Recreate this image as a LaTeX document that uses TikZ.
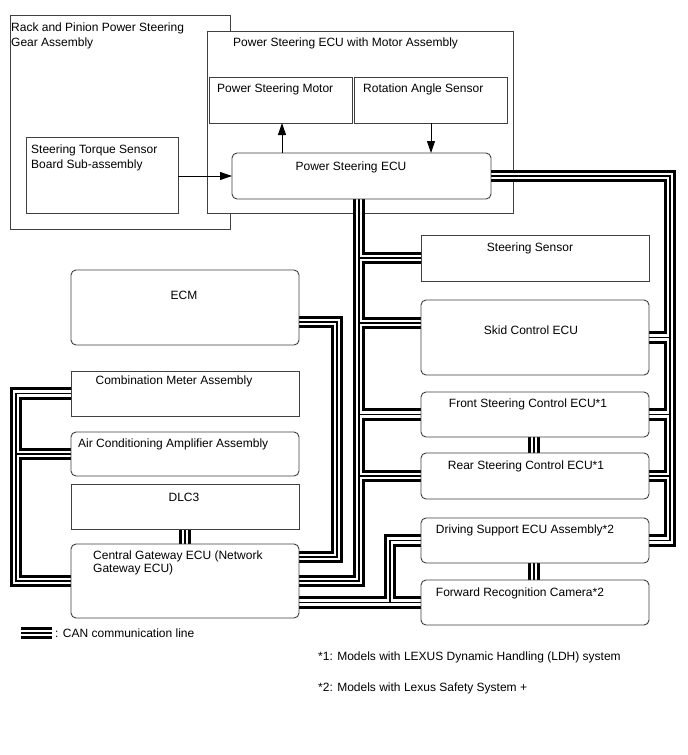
\documentclass[tikz,border=0pt]{standalone}
\usepackage{fontspec}
\setmainfont{Liberation Sans}
\usetikzlibrary{arrows.meta,calc}
\definecolor{boxc}{gray}{0.25}
\pgfdeclarelayer{bg}
\pgfdeclarelayer{bus}
\pgfsetlayers{bg,bus,main}
\newcommand\mkbox[6]{\node[#2, minimum width={(#5-#3)*1pt}, minimum height={(#6-#4)*1pt}] (#1) at ({(#3+#5)/2},{(#4+#6)/2}) {};}
\newcommand\canbuses{%
  % right-hand chain
  \draw (ecu.east) -- (rx |- ecu.east) -- (rx |- ds.east) -- (ds.east);
  \draw (rx |- skid.east) -- (skid.east);
  \draw (rx |- front.east) -- (front.east);
  \draw (rx |- rear.east) -- (rear.east);
  % main trunk
  \draw (ecu.south -| tx) -- (tx |- cg.east) -- (cg.east);
  \draw (tx |- ss.west) -- (ss.west);
  \draw (tx |- skidL) -- (skidL);
  \draw (tx |- front.west) -- (front.west);
  \draw (tx |- rear.west) -- (rear.west);
  % ECM
  \draw (ecmR) -- (mx |- ecmR) -- (mx |- cgA) -- (cgA);
  % left bus
  \draw (cm.west) -- (lx |- cm.west) -- (lx |- cg.west) -- (cg.west);
  \draw (lx |- ac.west) -- (ac.west);
  % bottom
  \draw (cg.east |- frc.west) -- (frc.west);
  \draw (ds.west) -- (dx |- ds.west) -- (dx |- frc.west);
  % short verticals
  \draw (front.south -| vx) -- (rear.north -| vx);
  \draw (ds.south -| vx) -- (frc.north -| vx);
  \draw (dlc.south) -- (cg.north);
  % legend
  \draw (lg1) -- (lg2);
}
\tikzset{
  sq/.style={draw=boxc, line width=0.9pt, inner sep=0pt, outer sep=0pt},
  rnd/.style={sq, rounded corners=5pt},
  lbl/.style={inner sep=0pt, font=\fontsize{12}{15}\selectfont},
  lblc/.style={lbl, anchor=base},
  lbll/.style={lbl, anchor=base west, align=left},
  arr/.style={draw=black, line width=0.9pt, -{Triangle[length=12pt,width=8pt]}}
}
\begin{document}
\begin{tikzpicture}[x=1pt,y=-1pt]
\useasboundingbox (0,0) rectangle (688,755);
\begin{pgfonlayer}{bg}
\fill[white] (0,0) rectangle (688,755);
\mkbox{gear}{sq}{10}{15}{230}{229}
\mkbox{psa}{sq,fill=white}{207}{31}{513}{213}
\end{pgfonlayer}
% boxes
\mkbox{motor}{sq}{209}{77}{352}{123}
\mkbox{ras}{sq}{354}{77}{507}{123}
\mkbox{torque}{sq}{26}{137}{178}{213}
\mkbox{ecu}{rnd}{232}{153}{491}{199}
\mkbox{ss}{sq}{421}{235}{649}{281}
\mkbox{skid}{rnd}{421}{300}{649}{375}
\mkbox{front}{rnd}{421}{392}{649}{437}
\mkbox{rear}{rnd}{421}{453}{649}{499}
\mkbox{ds}{rnd}{421}{518}{649}{563}
\mkbox{frc}{rnd}{421}{580}{649}{625}
\mkbox{ecm}{rnd}{71}{270}{299}{345}
\mkbox{cm}{sq}{71}{371}{299}{416}
\mkbox{ac}{rnd}{71}{432}{299}{476}
\mkbox{dlc}{sq}{71}{484}{299}{529}
\mkbox{cg}{rnd}{71}{544}{299}{618}
% bus helper coordinates
\coordinate (tx) at (359,0);
\coordinate (rx) at (670,0);
\coordinate (mx) at (337,0);
\coordinate (lx) at (16,0);
\coordinate (dx) at (390,0);
\coordinate (vx) at (534,0);
\coordinate (ax1) at (282,0);
\coordinate (ax2) at (431,0);
\coordinate (skidL) at ($(skid.north west)+(0,23)$);
\coordinate (ecmR) at ($(ecm.north east)+(0,52)$);
\coordinate (cgA) at ($(cg.north east)+(0,13)$);
\coordinate (lg1) at (21,633);
\coordinate (lg2) at (52,633);
% CAN buses
\begin{pgfonlayer}{bus}
\begin{scope}[line width=12.5pt] \canbuses \end{scope}
\begin{scope}[line width=6.9pt, white] \canbuses \end{scope}
\begin{scope}[line width=1.7pt] \canbuses \end{scope}
\end{pgfonlayer}
% arrows
\draw[arr] (torque.east |- ecu.west) -- (ecu.west);
\draw[arr] (ecu.north -| ax1) -- (motor.south -| ax1);
\draw[arr] (ras.south -| ax2) -- (ecu.north -| ax2);
% labels
\node[lbll] (tgear) at (11,46) {Rack and Pinion Power Steering\\Gear Assembly};
\node[lbll] (tpsa) at (233,46) {Power Steering ECU with Motor Assembly};
\node[lbll] (tmotor) at (217,92) {Power Steering Motor};
\node[lbll] (tras) at (363,92) {Rotation Angle Sensor};
\node[lbll] (ttorque) at (31,168) {Steering Torque Sensor\\Board Sub-assembly};
\node[lblc] (tecu) at (351,170) {Power Steering ECU};
\node[lblc] (tss) at (530,251) {Steering Sensor};
\node[lblc] (tskid) at (531,334) {Skid Control ECU};
\node[lblc] (tfront) at (528,407) {Front Steering Control ECU*1};
\node[lblc] (trear) at (526,469) {Rear Steering Control ECU*1};
\node[lblc] (tds) at (525,533) {Driving Support ECU Assembly*2};
\node[lblc] (tfrc) at (520,596) {Forward Recognition Camera*2};
\node[lblc] (tecm) at (184,299) {ECM};
\node[lblc] (tcm) at (174,384) {Combination Meter Assembly};
\node[lbll] (tac) at (78,447) {Air Conditioning Amplifier Assembly};
\node[lblc] (tdlc) at (184,501) {DLC3};
\node[lbll, font=\fontsize{12}{13}\selectfont] (tcg) at (93,572) {Central Gateway ECU (Network\\Gateway ECU)};
\node[lbll] (tleg) at (55,637) {: CAN communication line};
\node[lbll] (tn1) at (318,660) {*1: Models with LEXUS Dynamic Handling (LDH) system};
\node[lbll] (tn2) at (318,691) {*2: Models with Lexus Safety System +};
\end{tikzpicture}
\end{document}
